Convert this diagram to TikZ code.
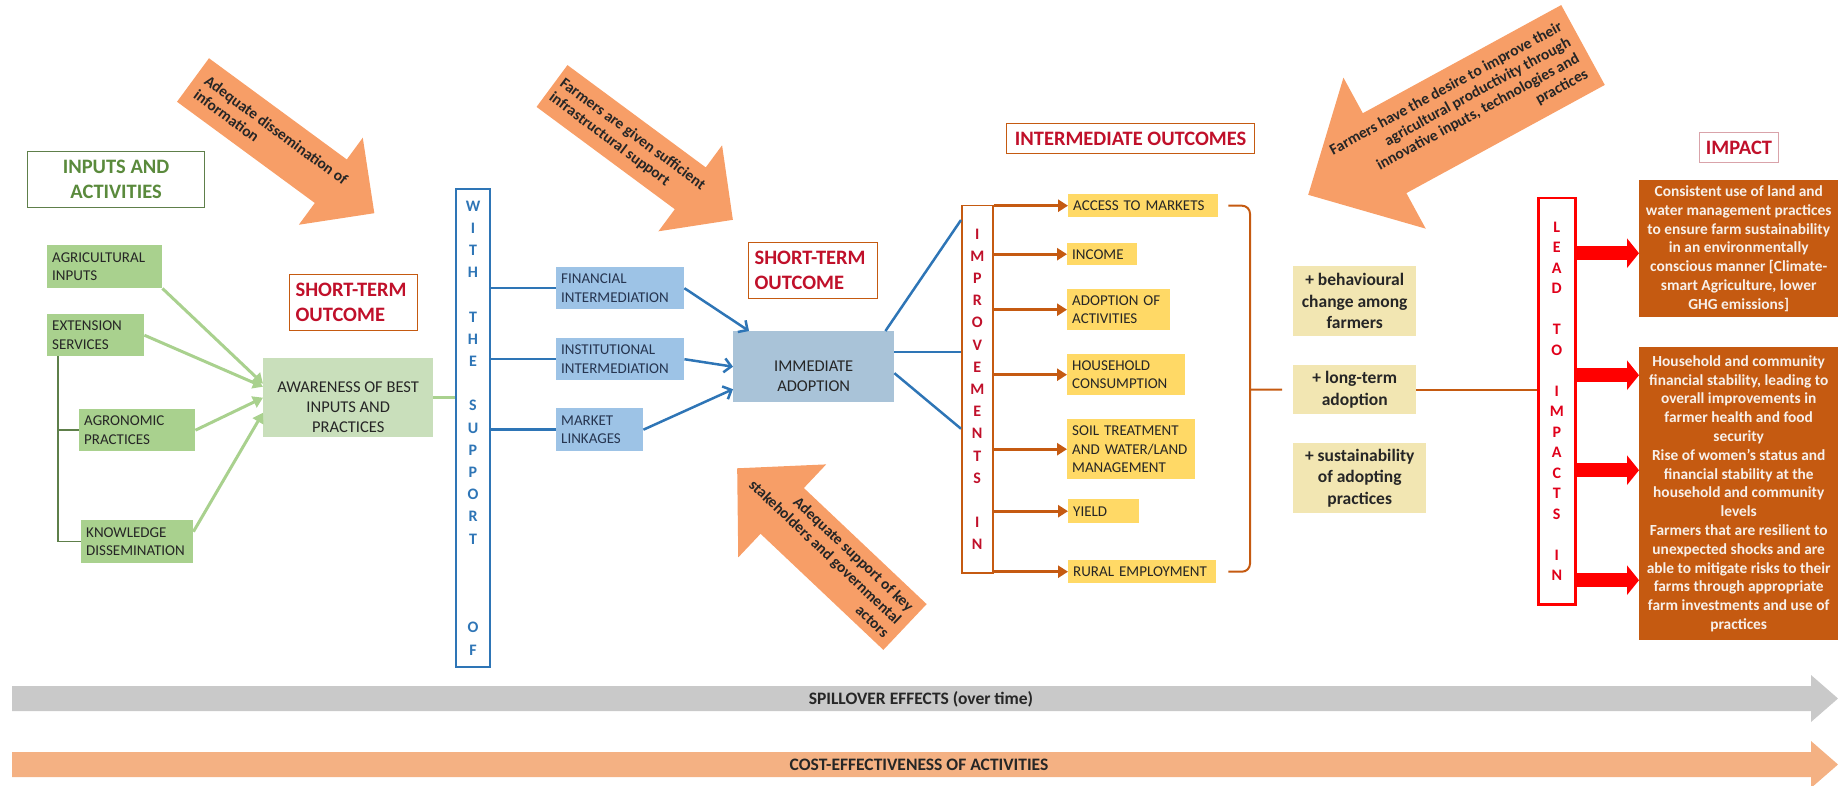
\documentclass[tikz,border=0pt]{standalone}
\usepackage{fontspec}
\setmainfont{Carlito}
\usepackage{tikz}
\usetikzlibrary{arrows.meta,positioning,calc}
\definecolor{grnF}{HTML}{A9D18E}
\definecolor{grnL}{HTML}{C9DFBB}
\definecolor{grnD}{HTML}{5E7F4A}
\definecolor{grnT}{HTML}{5A8A3C}
\definecolor{bluL}{HTML}{9DC3E6}
\definecolor{bluG}{HTML}{A9C3D8}
\definecolor{bluD}{HTML}{2E75B6}
\definecolor{navy}{HTML}{263550}
\definecolor{brn}{HTML}{C55A11}
\definecolor{crim}{HTML}{C0102A}
\definecolor{yel}{HTML}{FFD966}
\definecolor{khaki}{HTML}{F2E6B2}
\definecolor{redR}{HTML}{FF0000}
\definecolor{redL}{HTML}{E0001A}
\definecolor{arr}{HTML}{F79E67}
\definecolor{spillc}{HTML}{C9C9C9}
\definecolor{costc}{HTML}{F4B183}
\definecolor{ink}{HTML}{262626}
\definecolor{pinkB}{HTML}{D9A3AA}
\definecolor{impT}{HTML}{F7F0EA}

\begin{document}
\begin{tikzpicture}[x=1pt, y=-1pt,
  inbox/.style={fill=grnF, text=ink, font=\fontsize{15}{18.4}\selectfont, align=left, anchor=north west, inner xsep=5pt, inner ysep=0pt},
  finbox/.style={fill=bluL, text=navy, font=\fontsize{15}{18.4}\selectfont, align=left, anchor=north west, inner xsep=5pt, inner ysep=0pt},
  yelbox/.style={fill=yel, text=ink, font=\fontsize{15}{18.4}\selectfont, align=left, anchor=north west, inner xsep=5pt, inner ysep=0pt},
  midbox/.style={text=ink, font=\fontsize{16.5}{20}\selectfont, align=center, anchor=north west, inner sep=0pt},
  plusbox/.style={fill=khaki, text=ink, font=\bfseries\fontsize{17.5}{21.7}\selectfont, align=center, anchor=north west, inner sep=0pt},
  headbox/.style={draw=brn, line width=1.2pt, text=crim, font=\bfseries\fontsize{20.5}{25}\selectfont, anchor=north west, inner sep=0pt},
  vbox/.style={font=\bfseries\fontsize{16}{22.2}\selectfont, align=center, anchor=north west, inner sep=0pt},
  impbox/.style={fill=brn, text=impT, font=\bfseries\fontsize{15.4}{18.8}\selectfont, align=center, anchor=north west, inner sep=0pt},
  arrtext/.style={transform shape, text=ink, font=\bfseries\fontsize{15.5}{18}\selectfont, inner sep=0pt},
  bartext/.style={text=ink, font=\bfseries\fontsize{17.5}{20}\selectfont, inner sep=0pt},
  grnarr/.style={grnF, line width=3pt, -{Triangle[length=10pt,width=12pt]}},
  grnln/.style={grnF, line width=3pt},
  treeln/.style={grnD, line width=1.5pt},
  bluln/.style={bluD, line width=2.5pt},
  bluarr/.style={bluD, line width=2.5pt, -{Straight Barb[length=7pt,width=14pt]}},
  brnarr/.style={brn, line width=3pt, -{Triangle[length=10pt,width=12pt]}},
  brnln/.style={brn, line width=2pt},
  redarr/.style={redR, line width=14pt, -{Triangle[length=12pt,width=29pt]}}]
\useasboundingbox (0,0) rectangle (1838,786);

% assumption arrows
\begin{scope}[shift={(193,80)}, rotate=-36.3]
\fill[arr] (0,-27) -- (171,-27) -- (171,-54) -- (225,0) -- (171,54) -- (171,27) -- (0,27) -- cycle;
\node[arrtext, anchor=west, align=left] (as1) at (10,0) {Adequate dissemination of\\information};
\end{scope}
\begin{scope}[shift={(552,86)}, rotate=-36.5]
\fill[arr] (0,-26) -- (172,-26) -- (172,-53.5) -- (225,0) -- (172,53.5) -- (172,26) -- (0,26) -- cycle;
\node[arrtext, anchor=west, align=left] (as2) at (5,0) {Farmers are given sufficient\\infrastructural support};
\end{scope}
\begin{scope}[shift={(905,627)}, rotate=136.6]
\fill[arr] (0,-31.5) -- (169,-31.5) -- (169,-64) -- (231,0) -- (169,64) -- (169,31.5) -- (0,31.5) -- cycle;
\node[arrtext, rotate=180, anchor=east, align=right] (as3) at (8,0) {Adequate support of key\\stakeholders and governmental\\actors};
\end{scope}
\begin{scope}[shift={(1583,45)}, rotate=208.6]
\fill[arr] (0,-45.5) -- (226,-45.5) -- (226,-86) -- (313,0) -- (226,86) -- (226,45.5) -- (0,45.5) -- cycle;
\node[arrtext, rotate=180, anchor=east, align=right] (as4) at (10,0) {Farmers have the desire to improve their\\agricultural productivity through\\innovative inputs, technologies and\\practices};
\end{scope}

% inputs and activities
\node[headbox, draw=grnD, text=grnT, align=center, minimum width=177pt, minimum height=56pt] (inact) at (27,151) {INPUTS AND\\ACTIVITIES};
\node[inbox, text width=105pt, minimum height=43pt] (agri) at (47,245) {AGRICULTURAL\\INPUTS};
\node[inbox, text width=87pt, minimum height=42pt] (ext) at (47,314) {EXTENSION\\SERVICES};
\node[inbox, text width=106pt, minimum height=42pt] (agro) at (79,409) {AGRONOMIC\\PRACTICES};
\node[inbox, text width=102pt, minimum height=43pt] (know) at (81,520) {KNOWLEDGE\\DISSEMINATION};
\node[midbox, fill=grnL, minimum width=170pt, minimum height=79pt] (aware) at (263,358) {\mbox{}\\[9pt]AWARENESS OF BEST\\INPUTS AND\\PRACTICES};
\node[headbox, align=left, text width=116pt, inner xsep=6pt, minimum height=56pt] (st1) at (289,274) {SHORT-TERM\\OUTCOME};

\draw[treeln] ([xshift=11pt]ext.south west) |- (agro.west);
\draw[treeln] ([xshift=11pt]ext.south west) |- (know.west);
\draw[grnarr] (agri.south east) -- ([yshift=14pt]aware.west);
\draw[grnarr] (ext.east) -- ([yshift=11pt]aware.west);
\draw[grnarr] (agro.east) -- (aware.west);
\draw[grnarr] ([yshift=10pt]know.east) -- ([yshift=-15pt]aware.west);

% support
\node[vbox, draw=bluD, line width=2pt, text=bluD, minimum width=34pt, minimum height=478pt] (with) at (455,188) {W\\I\\T\\H\\\mbox{}\\T\\H\\E\\\mbox{}\\S\\U\\P\\P\\O\\R\\T\\\mbox{}\\\mbox{}\\\mbox{}\\O\\F};
\draw[grnln] (aware.east) -- (aware.east -| with.west);
\node[finbox, text width=118pt, minimum height=42pt] (fin) at (556,267) {FINANCIAL\\INTERMEDIATION};
\node[finbox, text width=118pt, minimum height=42pt] (inst) at (556,338) {INSTITUTIONAL\\INTERMEDIATION};
\node[finbox, text width=77pt, minimum height=43pt] (mkt) at (556,408) {MARKET\\LINKAGES};
\foreach \b in {fin,inst,mkt} \draw[bluln] (\b.west -| with.east) -- (\b.west);

\node[headbox, align=left, text width=117pt, inner xsep=6pt, minimum height=56pt] (st2) at (748,242) {SHORT-TERM\\OUTCOME};
\node[midbox, fill=bluG, minimum width=161pt, minimum height=71pt] (imm) at (733,331) {\mbox{}\\[10pt]IMMEDIATE\\ADOPTION};
\draw[bluarr] (fin.east) -- ([xshift=16pt]imm.north west);
\draw[bluarr] (inst.east) -- (imm.west);
\draw[bluarr] (mkt.east) -- ([yshift=-22.5pt]imm.west);

% intermediate outcomes
\node[vbox, draw=brn, line width=1.5pt, text=crim, minimum width=31pt, minimum height=367pt] (impr) at (961,205) {I\\M\\P\\R\\O\\V\\E\\M\\E\\N\\T\\S\\\mbox{}\\I\\N};
\draw[bluln] ([xshift=-9pt]imm.north east) -- ([yshift=-15pt]impr.north west);
\draw[bluln] ([yshift=14.5pt]imm.east) -- ([yshift=14.5pt]imm.east -| impr.west);
\draw[bluln] ([yshift=-6.5pt]imm.east) -- ([yshift=-39.5pt]impr.west);

\node[headbox, align=center, minimum width=248pt, minimum height=30pt] (intout) at (1006,123) {INTERMEDIATE OUTCOMES};
\node[yelbox, text width=140pt, minimum height=23pt] (acc) at (1068,194) {ACCESS TO MARKETS};
\node[yelbox, text width=60pt, minimum height=22pt] (inc) at (1067,243) {INCOME};
\node[yelbox, text width=93pt, minimum height=41pt] (adop) at (1067,289) {ADOPTION OF\\ACTIVITIES};
\node[yelbox, text width=108pt, minimum height=41pt] (hh) at (1067,354) {HOUSEHOLD\\CONSUMPTION};
\node[yelbox, text width=118pt, minimum height=60pt] (soil) at (1067,419) {SOIL TREATMENT\\\mbox{AND WATER/LAND}\\MANAGEMENT};
\node[yelbox, text width=61pt, minimum height=24pt] (yld) at (1068,499) {YIELD};
\node[yelbox, text width=138pt, minimum height=23pt] (rur) at (1068,560) {\mbox{RURAL EMPLOYMENT}};
\foreach \y in {acc,inc,adop,hh,soil,yld,rur} \draw[brnarr] (\y.west -| impr.east) -- (\y.west);

% brace and long-term
\coordinate (brtip) at (1250,389.5);
\draw[brnln, rounded corners=8pt] ([xshift=10pt]acc.east) -| (brtip) |- ([xshift=12pt]rur.east);
\node[plusbox, minimum width=123pt, minimum height=70pt] (beh) at (1293,266) {+ behavioural\\change among\\farmers};
\node[plusbox, minimum width=123pt, minimum height=49pt] (longt) at (1293,365) {+ long-term\\adoption};
\node[plusbox, minimum width=133pt, minimum height=70pt] (sust) at (1293,443) {+ sustainability\\of adopting\\practices};
\draw[brnln] (brtip) -- ([xshift=-11pt]longt.west);

% impact
\node[vbox, draw=redR, line width=2.5pt, text=redL, font=\bfseries\fontsize{16}{20.5}\selectfont, minimum width=37pt, minimum height=406pt] (lead) at (1537,197) {L\\E\\A\\D\\\mbox{}\\T\\O\\\mbox{}\\I\\M\\P\\A\\C\\T\\S\\\mbox{}\\I\\N};
\draw[brnln] (longt.east) -- (longt.east -| lead.west);
\node[headbox, draw=pinkB, line width=1pt, align=center, minimum width=79pt, minimum height=30pt] (imptitle) at (1699,132) {IMPACT};
\node[impbox, minimum width=199pt, minimum height=137pt] (imp1) at (1639,180) {Consistent use of land and\\water management practices\\to ensure farm sustainability\\in an environmentally\\conscious manner [Climate-\\smart Agriculture, lower\\GHG emissions]};
\node[impbox, minimum width=199pt, minimum height=293pt] (imp2) at (1639,347) {Household and community\\financial stability, leading to\\overall improvements in\\farmer health and food\\security\\Rise of women’s status and\\financial stability at the\\household and community\\levels\\Farmers that are resilient to\\unexpected shocks and are\\able to mitigate risks to their\\farms through appropriate\\farm investments and use of\\practices};
\coordinate (r1) at ([yshift=-4.5pt]imp1.west);
\coordinate (r2) at ([yshift=118.5pt]imp2.west);
\coordinate (r3) at ([yshift=23.5pt]imp2.west);
\coordinate (r4) at ([yshift=-86.5pt]imp2.west);
\foreach \r in {r1,r2,r3,r4} \draw[redarr] (\r -| lead.east) -- (\r);

% bottom bars
\fill[spillc] (12,686) -- (1811,686) -- (1811,675) -- (1838,698.5) -- (1811,722) -- (1811,711) -- (12,711) -- cycle;
\node[bartext] (spill) at (921,699) {SPILLOVER EFFECTS (over time)};
\fill[costc] (12,752) -- (1811,752) -- (1811,741) -- (1838,764.5) -- (1811,788) -- (1811,777) -- (12,777) -- cycle;
\node[bartext] (cost) at (919,765) {COST-EFFECTIVENESS OF ACTIVITIES};
\end{tikzpicture}
\end{document}
